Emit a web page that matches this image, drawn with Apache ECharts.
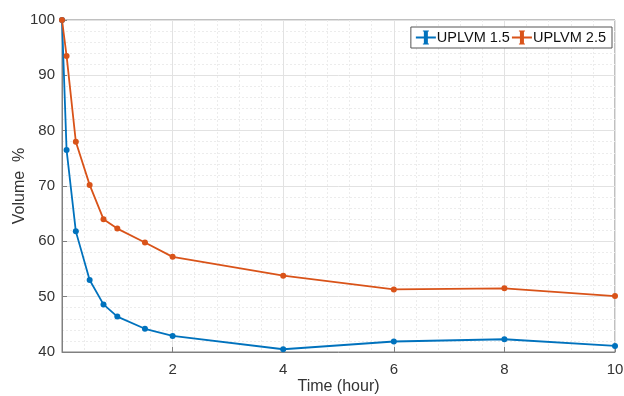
<!DOCTYPE html>
<html>
<head>
<meta charset="utf-8">
<script src="https://cdn.jsdelivr.net/npm/echarts@6/dist/echarts.min.js"></script>
<style>html,body{margin:0;padding:0;background:#fff}#c{width:624px;height:396px}</style>
</head>
<body>
<div id="c"></div>
<script>
const times = [0, 0.083, 0.25, 0.5, 0.75, 1, 1.5, 2, 4, 6, 8, 10];
const uplvm15 = [100, 76.5, 61.8, 53.0, 48.6, 46.4, 44.2, 42.9, 40.5, 41.9, 42.3, 41.1];
const uplvm25 = [100, 93.5, 78.0, 70.2, 64.0, 62.3, 59.8, 57.2, 53.8, 51.3, 51.5, 50.1];
const seriesNames = ['UPLVM 1.5', 'UPLVM 2.5'];
const colors = ['#0072BD', '#D95319'];

const font = 'Liberation Sans, Arial, sans-serif';
const axisColor = '#808080';
const icon = 'path://M0,9H8V4H7V3H13V4H12V9H20V11H12V16H13V17H7V16H8V11H0Z';

function mk(name, vals, color) {
  return {
    name: name, type: 'line', data: times.map((t, i) => [t, vals[i]]),
    symbol: 'circle', symbolSize: 6,
    lineStyle: { color: color, width: 1.8 },
    itemStyle: { color: color },
    z: 3
  };
}

const chart = echarts.init(document.getElementById('c'));
chart.setOption({
  animation: false,
  grid: { left: 62, right: 9, top: 20, bottom: 44, show: true, borderColor: axisColor, borderWidth: 1,
          containLabel: false, outerBoundsMode: 'none' },
  legend: {
    right: 12, top: 27, orient: 'horizontal',
    icon: icon, itemWidth: 20, itemHeight: 18, itemGap: 2,
    backgroundColor: '#fff', borderColor: '#555', borderWidth: 1, padding: [3, 6, 3, 5],
    textStyle: { fontFamily: font, fontSize: 14.5, color: '#111', padding: [0, 0, 0, -4] },
    data: seriesNames
  },
  xAxis: {
    type: 'value', min: 0, max: 10, interval: 2,
    name: 'Time (hour)', nameLocation: 'middle', nameGap: 27, nameMoveOverlap: false,
    nameTextStyle: { fontFamily: font, fontSize: 16, color: '#333' },
    axisLine: { lineStyle: { color: axisColor } },
    axisTick: { inside: true, length: 5, lineStyle: { color: axisColor } },
    axisLabel: { fontFamily: font, fontSize: 15, color: '#333', margin: 10,
      formatter: v => v === 0 ? '' : String(v) },
    splitLine: { show: true, lineStyle: { color: '#e2e2e2', width: 1 } },
    minorTick: { show: false, splitNumber: 5 },
    minorSplitLine: { show: true, lineStyle: { color: '#ececec', type: [2, 2], width: 1 } }
  },
  yAxis: {
    type: 'value', min: 40, max: 100, interval: 10,
    name: 'Volume  %', nameLocation: 'middle', nameGap: 34, nameMoveOverlap: false,
    nameTextStyle: { fontFamily: font, fontSize: 16, color: '#333' },
    axisLine: { show: true, lineStyle: { color: axisColor } },
    axisTick: { show: true, inside: true, length: 5, lineStyle: { color: axisColor } },
    axisLabel: { fontFamily: font, fontSize: 15, color: '#333', margin: 7 },
    splitLine: { show: true, lineStyle: { color: '#e2e2e2', width: 1 } },
    minorTick: { show: false, splitNumber: 5 },
    minorSplitLine: { show: true, lineStyle: { color: '#ececec', type: [2, 2], width: 1 } }
  },
  series: [mk(seriesNames[0], uplvm15, colors[0]), mk(seriesNames[1], uplvm25, colors[1])]
});
</script>
</body>
</html>
